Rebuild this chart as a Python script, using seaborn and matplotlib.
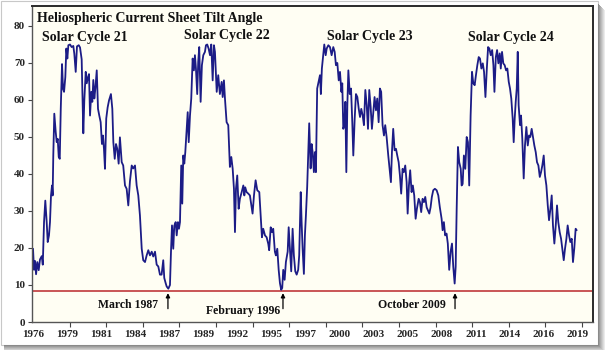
import matplotlib
matplotlib.use("Agg")
import matplotlib.pyplot as plt
import seaborn as sns
import pandas as pd
from matplotlib.patches import Rectangle

# ---------------- data ----------------
years = [1976.40, 1976.48, 1976.56, 1976.64, 1976.74, 1976.85, 1976.95, 1977.09, 1977.17, 1977.27,
         1977.37, 1977.48, 1977.56, 1977.66, 1977.74, 1977.82, 1977.90, 1977.95, 1978.00, 1978.08,
         1978.19, 1978.27, 1978.35, 1978.43, 1978.51, 1978.59, 1978.69, 1978.77, 1978.85, 1978.95,
         1979.03, 1979.11, 1979.19, 1979.32, 1979.45, 1979.58, 1979.66, 1979.77, 1979.87, 1980.01,
         1980.11, 1980.24, 1980.37, 1980.45, 1980.56, 1980.64, 1980.74, 1980.82, 1980.90, 1981.00,
         1981.08, 1981.16, 1981.24, 1981.32, 1981.43, 1981.53, 1981.63, 1981.74, 1981.84, 1981.92,
         1982.00, 1982.08, 1982.18, 1982.29, 1982.40, 1982.55, 1982.66, 1982.74, 1982.85, 1982.95,
         1983.05, 1983.16, 1983.26, 1983.40, 1983.52, 1983.66, 1983.79, 1983.92, 1984.05, 1984.19,
         1984.31, 1984.45, 1984.58, 1984.71, 1984.84, 1984.98, 1985.10, 1985.24, 1985.37, 1985.50,
         1985.63, 1985.77, 1985.89, 1986.03, 1986.16, 1986.29, 1986.42, 1986.55, 1986.68, 1986.76,
         1986.87, 1986.95, 1987.08, 1987.21, 1987.29, 1987.37, 1987.47, 1987.55, 1987.66, 1987.74,
         1987.84, 1987.92, 1988.00, 1988.10, 1988.18, 1988.26, 1988.34, 1988.42, 1988.53, 1988.61,
         1988.69, 1988.79, 1988.89, 1989.00, 1989.10, 1989.18, 1989.26, 1989.36, 1989.44, 1989.52,
         1989.63, 1989.73, 1989.84, 1989.97, 1990.05, 1990.15, 1990.26, 1990.37, 1990.47, 1990.58,
         1990.68, 1990.76, 1990.90, 1991.02, 1991.15, 1991.29, 1991.37, 1991.47, 1991.55, 1991.68,
         1991.81, 1991.94, 1992.05, 1992.16, 1992.26, 1992.34, 1992.42, 1992.52, 1992.63, 1992.73,
         1992.87, 1993.00, 1993.08, 1993.15, 1993.26, 1993.39, 1993.52, 1993.66, 1993.73, 1993.84,
         1993.97, 1994.10, 1994.26, 1994.37, 1994.47, 1994.57, 1994.71, 1994.84, 1994.97, 1995.04,
         1995.16, 1995.26, 1995.36, 1995.49, 1995.57, 1995.68, 1995.79, 1995.89, 1995.99, 1996.07,
         1996.15, 1996.26, 1996.36, 1996.50, 1996.58, 1996.68, 1996.78, 1996.89, 1996.99, 1997.10,
         1997.21, 1997.33, 1997.41, 1997.53, 1997.60, 1997.68, 1997.78, 1997.86, 1997.94, 1998.04,
         1998.12, 1998.20, 1998.31, 1998.39, 1998.47, 1998.57, 1998.65, 1998.73, 1998.83, 1998.94,
         1999.05, 1999.12, 1999.20, 1999.31, 1999.39, 1999.50, 1999.58, 1999.71, 1999.84, 1999.97,
         2000.10, 2000.21, 2000.31, 2000.42, 2000.53, 2000.63, 2000.74, 2000.81, 2000.89, 2000.97,
         2001.05, 2001.13, 2001.21, 2001.29, 2001.40, 2001.50, 2001.60, 2001.68, 2001.79, 2001.89,
         2002.00, 2002.11, 2002.21, 2002.31, 2002.42, 2002.52, 2002.63, 2002.74, 2002.84, 2002.94,
         2003.05, 2003.15, 2003.26, 2003.36, 2003.47, 2003.57, 2003.68, 2003.78, 2003.88, 2003.99,
         2004.10, 2004.20, 2004.31, 2004.44, 2004.57, 2004.65, 2004.73, 2004.83, 2004.94, 2005.05,
         2005.15, 2005.26, 2005.36, 2005.46, 2005.57, 2005.67, 2005.78, 2005.89, 2005.97, 2006.07,
         2006.17, 2006.28, 2006.38, 2006.49, 2006.60, 2006.70, 2006.84, 2006.94, 2007.04, 2007.15,
         2007.26, 2007.36, 2007.47, 2007.57, 2007.68, 2007.78, 2007.88, 2007.99, 2008.12, 2008.26,
         2008.39, 2008.51, 2008.65, 2008.73, 2008.83, 2008.93, 2009.04, 2009.14, 2009.25, 2009.36,
         2009.47, 2009.57, 2009.68, 2009.76, 2009.84, 2009.94, 2010.04, 2010.16, 2010.23, 2010.31,
         2010.41, 2010.52, 2010.63, 2010.73, 2010.83, 2010.94, 2011.05, 2011.15, 2011.26, 2011.36,
         2011.47, 2011.58, 2011.68, 2011.79, 2011.90, 2012.00, 2012.11, 2012.22, 2012.32, 2012.42,
         2012.53, 2012.64, 2012.74, 2012.82, 2012.93, 2013.03, 2013.13, 2013.24, 2013.32, 2013.42,
         2013.52, 2013.63, 2013.74, 2013.84, 2013.95, 2014.05, 2014.15, 2014.26, 2014.34, 2014.42,
         2014.50, 2014.58, 2014.66, 2014.73, 2014.84, 2014.92, 2015.02, 2015.13, 2015.23, 2015.34,
         2015.45, 2015.55, 2015.65, 2015.76, 2015.86, 2015.97, 2016.08, 2016.18, 2016.29, 2016.40,
         2016.50, 2016.60, 2016.71, 2016.81, 2016.92, 2017.03, 2017.13, 2017.24, 2017.34, 2017.44,
         2017.55, 2017.66, 2017.76, 2017.86, 2017.97, 2018.08, 2018.18, 2018.29, 2018.39, 2018.50,
         2018.60, 2018.71, 2018.81, 2018.92, 2019.02, 2019.12, 2019.23, 2019.31]

tilt = [19.8, 14.1, 16.5, 12.9, 16.2, 14.0, 16.9, 17.8, 15.5, 27.0,
        32.8, 27.0, 21.6, 23.4, 27.0, 34.2, 36.9, 34.2, 45.0, 56.3,
        51.4, 48.6, 49.5, 44.6, 44.1, 57.6, 69.7, 63.0, 62.2, 66.2,
        73.9, 71.2, 74.8, 75.0, 74.3, 74.6, 72.5, 67.6, 74.5, 74.8,
        74.2, 71.0, 51.0, 60.0, 67.6, 64.5, 66.2, 67.0, 55.8, 62.2,
        59.5, 65.4, 60.4, 63.1, 68.0, 57.6, 55.8, 54.0, 48.1, 50.4,
        46.8, 41.4, 55.0, 58.0, 59.9, 61.6, 57.6, 48.6, 44.1, 48.1,
        46.8, 42.8, 49.9, 43.2, 42.3, 36.9, 36.0, 31.5, 38.0, 42.3,
        41.5, 42.3, 36.9, 34.2, 28.8, 19.8, 16.7, 16.2, 18.0, 19.4,
        18.0, 19.0, 17.7, 19.0, 15.5, 15.0, 12.8, 12.8, 16.7, 11.9,
        10.5, 9.6, 9.0, 10.0, 19.0, 26.1, 19.8, 26.0, 27.0, 23.4,
        27.0, 25.2, 27.0, 42.3, 32.0, 45.0, 42.8, 45.9, 52.2, 56.7,
        48.6, 55.8, 60.4, 71.2, 68.0, 72.1, 68.5, 61.6, 70.3, 74.3,
        59.5, 69.4, 72.1, 73.0, 74.8, 75.0, 73.9, 72.1, 75.0, 65.3,
        74.8, 73.0, 62.2, 66.7, 61.6, 64.9, 60.8, 65.3, 60.4, 54.0,
        53.2, 41.9, 44.6, 41.4, 36.0, 24.3, 36.0, 39.6, 30.6, 33.3,
        35.1, 36.9, 34.2, 36.4, 35.1, 34.7, 34.2, 31.0, 29.3, 34.2,
        38.3, 35.6, 35.1, 28.8, 22.9, 25.2, 23.4, 22.9, 21.1, 19.4,
        25.6, 24.3, 25.2, 19.0, 18.0, 19.8, 14.1, 10.5, 8.7, 9.2,
        14.1, 11.4, 16.2, 19.0, 25.6, 19.8, 13.7, 25.2, 18.0, 13.7,
        12.8, 14.1, 18.0, 35.1, 27.0, 19.8, 13.0, 23.4, 28.8, 36.5,
        45.0, 53.7, 41.5, 48.1, 45.9, 40.5, 45.9, 40.5, 63.1, 64.9,
        66.7, 61.6, 68.5, 72.1, 75.0, 72.1, 73.9, 74.8, 74.3, 72.1,
        74.3, 73.0, 69.4, 70.0, 65.3, 67.6, 62.2, 64.5, 52.2, 53.2,
        59.5, 40.5, 58.6, 68.0, 61.6, 63.1, 54.0, 45.0, 55.0, 61.6,
        60.8, 57.6, 55.4, 57.6, 55.8, 53.2, 62.7, 58.6, 52.2, 62.7,
        58.1, 52.2, 56.7, 60.8, 57.2, 60.4, 54.0, 63.1, 62.2, 53.2,
        50.4, 53.2, 50.0, 45.0, 40.5, 37.8, 45.9, 52.2, 46.4, 46.8,
        45.0, 43.2, 39.6, 34.7, 41.4, 40.5, 42.3, 37.8, 29.3, 36.9,
        41.0, 35.1, 36.9, 34.2, 27.9, 30.6, 33.3, 32.4, 29.7, 33.3,
        32.4, 33.8, 31.0, 30.2, 29.3, 31.0, 33.8, 35.6, 36.0, 35.6,
        34.2, 31.0, 27.9, 24.8, 27.0, 23.4, 23.9, 21.2, 14.1, 19.0,
        21.2, 15.0, 10.4, 14.9, 30.6, 47.3, 43.2, 41.4, 36.9, 37.3,
        45.0, 41.4, 50.0, 48.6, 36.9, 55.8, 67.6, 64.5, 64.0, 66.7,
        69.4, 71.6, 71.2, 68.5, 69.9, 67.6, 60.8, 68.5, 74.3, 73.9,
        72.1, 73.5, 69.4, 62.2, 71.6, 73.5, 69.9, 72.6, 68.5, 73.0,
        69.9, 69.4, 68.0, 68.5, 64.9, 63.1, 60.4, 55.0, 48.6, 55.0,
        59.5, 63.1, 73.0, 58.6, 53.2, 55.8, 49.5, 38.8, 47.7, 52.7,
        47.7, 50.4, 50.0, 52.2, 50.0, 47.7, 45.9, 43.2, 42.3, 39.2,
        40.5, 42.3, 45.0, 39.6, 36.9, 31.5, 27.5, 30.6, 34.2, 26.1,
        21.2, 26.1, 31.5, 27.0, 24.3, 22.5, 19.8, 16.7, 19.8, 22.5,
        26.1, 23.4, 21.6, 22.5, 16.2, 19.8, 25.2, 24.8]

tick_label_pos = [1976.40, 1979.09, 1981.78, 1984.46, 1987.15, 1989.84, 1992.53, 1995.22,
                  1997.91, 2000.59, 2003.28, 2005.97, 2008.66, 2011.35, 2014.04, 2016.72, 2019.41]
tick_labels = ["1976", "1979", "1981", "1984", "1987", "1989", "1992", "1995", "1997",
               "2000", "2003", "2005", "2008", "2011", "2014", "2016", "2019"]
tick_mark_pos = [1976.40, 1979.29, 1982.18, 1985.07, 1987.96, 1990.84, 1993.73, 1996.62,
                 1999.51, 2002.40, 2005.29, 2008.18, 2011.07, 2013.96, 2016.84, 2019.73]
y_ticks = [0, 10, 20, 30, 40, 50, 60, 70, 80]

reference_level = 8.5
chart_title = "Heliospheric Current Sheet Tilt Angle"
cycle_names = ["Solar Cycle 21", "Solar Cycle 22", "Solar Cycle 23", "Solar Cycle 24"]
cycle_x = [1980.50, 1991.71, 2003.00, 2014.13]
cycle_y = [76.9, 77.4, 77.1, 76.9]
minima_names = ["March 1987", "February 1996", "October 2009"]
minima_x = [1987.05, 1996.13, 2009.71]
minima_label_x = [1983.90, 1992.97, 2006.31]
minima_label_y = [4.6, 3.0, 4.6]

# ---------------- styling ----------------
sns.set_style("white")
plt.rcParams["font.family"] = ["Liberation Serif", "DejaVu Serif"]
plt.rcParams["font.weight"] = "bold"

W, H = 606, 350
fig = plt.figure(figsize=(W / 100, H / 100), dpi=100)
fig.patch.set_facecolor("white")

# outer screenshot border and drop shadow
fig.patches.append(Rectangle((0.5 / W, 1 - 344.5 / H), 597 / W, 344 / H, transform=fig.transFigure,
                             facecolor="none", edgecolor="#c8c8c8", lw=0.8, zorder=0))
shadow_greys = ["#8a8a8a", "#9c9c9c", "#adadad", "#bdbdbd", "#cdcdcd", "#dcdcdc", "#ebebeb"]
for i, g in enumerate(shadow_greys):
    fig.patches.append(Rectangle(((598 + i) / W, 0), 1 / W, 1 - (4 + i) / H, transform=fig.transFigure,
                                 facecolor=g, edgecolor="none", zorder=0))
    fig.patches.append(Rectangle((4 / W, (H - 345 - i - 1) / H), (594 + i) / W, 1 / H,
                                 transform=fig.transFigure, facecolor=g, edgecolor="none", zorder=0))

ax = fig.add_axes([32 / W, (H - 322) / H, (593 - 32) / W, (322 - 6) / H])
ax.set_facecolor("#fffef3")

df = pd.DataFrame({"year": years, "tilt": tilt})
sns.lineplot(data=df, x="year", y="tilt", ax=ax, color="#1c1c86", linewidth=1.3,
             estimator=None, sort=False)
ax.axhline(reference_level, color="#c0393b", linewidth=1.2, zorder=1)

ax.set_xlim(1976.32, 2020.60)
ax.set_ylim(0, 85.4)
ax.set_xlabel("")
ax.set_ylabel("")

ax.set_xticks(tick_label_pos)
ax.set_xticklabels(tick_labels, fontsize=8, fontweight="bold")
ax.set_xticks(tick_mark_pos, minor=True)
ax.tick_params(axis="x", which="major", length=0, pad=6)
ax.tick_params(axis="x", which="minor", length=3.5, width=0.8, color="#444444", direction="out", bottom=True)
ax.set_yticks(y_ticks)
ax.set_yticklabels([str(v) for v in y_ticks], fontsize=8, fontweight="bold")
ax.tick_params(axis="y", which="major", length=3, width=0.8, color="#444444", direction="out", left=True, pad=2)

for side in ["top", "right"]:
    ax.spines[side].set_color("#2a2a2a")
    ax.spines[side].set_linewidth(1.4)
for side in ["left", "bottom"]:
    ax.spines[side].set_color("#555555")
    ax.spines[side].set_linewidth(1.0)

ax.text(1976.70, 81.9, chart_title, ha="left", va="center", fontsize=10, fontweight="bold",
        color="#111111")
for name, cx, cy in zip(cycle_names, cycle_x, cycle_y):
    ax.text(cx, cy, name, ha="center", va="center", fontsize=10, fontweight="bold", color="#111111")

for name, mx, lx, ly in zip(minima_names, minima_x, minima_label_x, minima_label_y):
    ax.annotate("", xy=(mx, 7.8), xytext=(mx, 3.6),
                arrowprops=dict(arrowstyle="-|>", color="black", lw=0.9, mutation_scale=6,
                                shrinkA=0, shrinkB=0))
    ax.text(lx, ly, name, ha="center", va="center", fontsize=8.5, fontweight="bold", color="#111111")

fig.savefig("out.png", dpi=100, facecolor="white")
